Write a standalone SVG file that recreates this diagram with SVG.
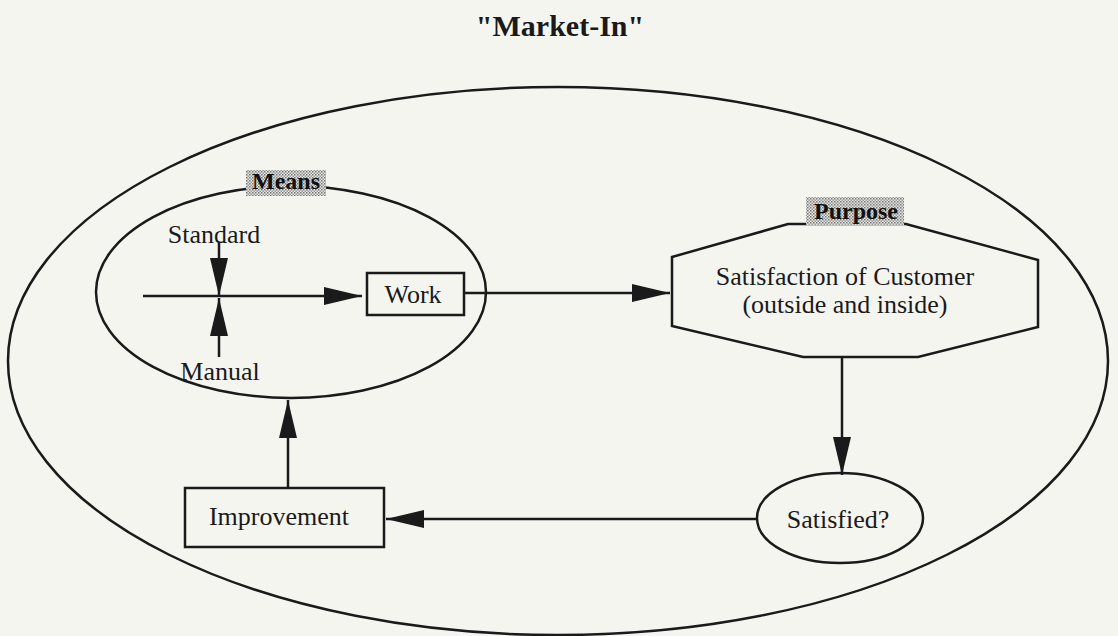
<svg xmlns="http://www.w3.org/2000/svg" width="1118" height="636" viewBox="0 0 1118 636">
<style>
.shape{fill:none;stroke:#1a1a1a;stroke-width:2.5}
.box{fill:#f5f5f0;stroke:#1a1a1a;stroke-width:2.5}
.line{fill:none;stroke:#1a1a1a;stroke-width:2.5}
.t{font-family:"Liberation Serif",serif;font-size:26px;fill:#1a1a1a;text-anchor:middle}
.lbl{font-family:"Liberation Serif",serif;font-size:24px;font-weight:bold;fill:#111;text-anchor:middle}
.title{font-family:"Liberation Serif",serif;font-size:30px;font-weight:bold;fill:#1a1a1a;text-anchor:middle}
</style>
<defs>
<marker id="ah" markerUnits="userSpaceOnUse" markerWidth="38" markerHeight="18" refX="38" refY="9" orient="auto">
<path d="M0,0 L38,9 L0,18 z" fill="#1a1a1a"/>
</marker>
<pattern id="stip" width="3" height="3" patternUnits="userSpaceOnUse">
<rect width="3" height="3" fill="#e6e6e2"/>
<rect x="0" y="0" width="1.5" height="1.5" fill="#777"/>
<rect x="1.5" y="1.5" width="1.5" height="1.5" fill="#999"/>
</pattern>
</defs>
<rect width="1118" height="636" fill="#f5f5f0"/>
<text class="title" x="560" y="36">"Market-In"</text>
<g id="outer"><ellipse class="shape" cx="558" cy="361" rx="550" ry="274"/></g>
<g id="means">
<ellipse class="shape" cx="291" cy="292" rx="195" ry="106"/>
<rect x="246" y="170" width="80" height="26" fill="url(#stip)"/>
<text class="lbl" x="286" y="189">Means</text>
</g>
<g id="standard"><text class="t" x="214" y="243">Standard</text></g>
<g id="manual"><text class="t" x="220" y="380">Manual</text></g>
<g id="work">
<rect class="box" x="367" y="273" width="97" height="42"/>
<text class="t" x="413" y="303">Work</text>
</g>
<g id="purpose">
<polygon class="shape" points="788,224 906,224 1038,260 1038,327 918,357 803,357 672,326 672,257"/>
<rect x="806" y="197" width="98" height="28" fill="url(#stip)"/>
<text class="lbl" x="856" y="219">Purpose</text>
<text class="t" x="845" y="285">Satisfaction of Customer</text>
<text class="t" x="845" y="313">(outside and inside)</text>
</g>
<g id="satisfied">
<ellipse class="shape" cx="840" cy="518" rx="83" ry="45"/>
<text class="t" x="838" y="528">Satisfied?</text>
</g>
<g id="improvement">
<rect class="box" x="185" y="488" width="199" height="59"/>
<text class="t" x="279" y="525">Improvement</text>
</g>
<g id="connectors">
<path class="line" d="M143,296 L362,296" marker-end="url(#ah)"/>
<path class="line" d="M219,243 L219,296" marker-end="url(#ah)"/>
<path class="line" d="M219,357 L219,298" marker-end="url(#ah)"/>
<path class="line" d="M464,293 L670,293" marker-end="url(#ah)"/>
<path class="line" d="M842,357 L842,475" marker-end="url(#ah)"/>
<path class="line" d="M757,519 L386,519" marker-end="url(#ah)"/>
<path class="line" d="M288,488 L288,400" marker-end="url(#ah)"/>
</g>
</svg>
